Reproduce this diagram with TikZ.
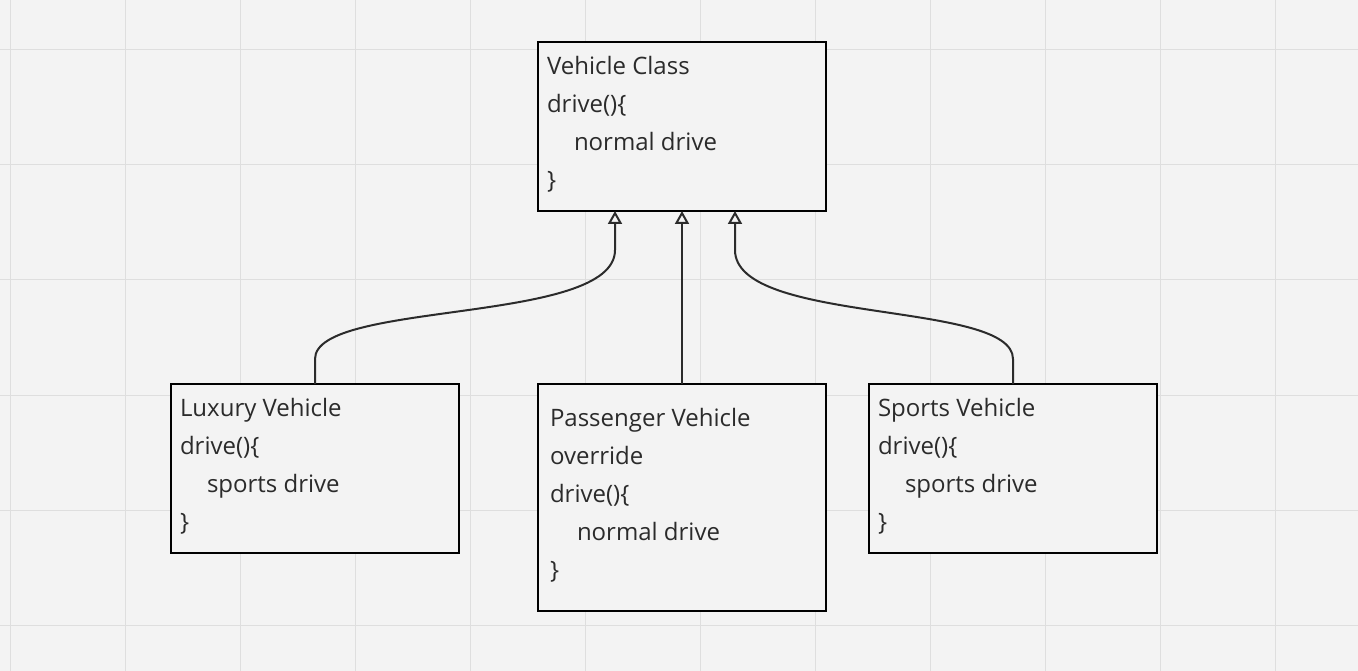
\documentclass[tikz,border=0pt]{standalone}
\usepackage{fontspec}
\setmainfont{Open Sans}
\usetikzlibrary{arrows.meta,calc}
\definecolor{bgc}{HTML}{F3F3F3}
\definecolor{gridc}{HTML}{DEDEDE}
\definecolor{linec}{HTML}{2B2B2B}
\tikzset{
  every picture/.style={line width=2pt},
  classbox/.style={draw=black,fill=bgc,minimum width=288pt,inner sep=0pt,outer sep=0pt},
  classtext/.style={anchor=north west,inner sep=0pt,align=left,text=linec,
    font=\fontsize{24}{38}\selectfont},
  inherit/.style={draw=linec,-{Triangle[open,width=14pt,length=13pt]}}
}
\begin{document}
\begin{tikzpicture}[x=1pt,y=1pt,yscale=-1]
  \fill[bgc] (0,0) rectangle (1358,671);
  \useasboundingbox (0,0) rectangle (1358,671);
  % grid
  \foreach \gx in {10,125,...,1358} \draw[gridc,line width=1pt] (\gx,0) -- (\gx,671);
  \foreach \gy in {50,165,...,671} \draw[gridc,line width=1pt] (0,\gy) -- (1358,\gy);

  % boxes
  \node[classbox,minimum height=169pt,anchor=north west] (vehicle) at (538,42) {};
  \node[classbox,minimum height=169pt,anchor=north west] (luxury) at (171,384) {};
  \node[classbox,minimum height=227pt,anchor=north west] (passenger) at (538,384) {};
  \node[classbox,minimum height=169pt,anchor=north west] (sports) at (869,384) {};

  % texts
  \node[classtext] (vehicletxt) at (546,55) {Vehicle Class\\drive()\{\\\hspace*{27pt}normal drive\\\}};
  \node[classtext] (luxurytxt) at (179,397) {Luxury Vehicle\\drive()\{\\\hspace*{27pt}sports drive\\\}};
  \node[classtext] (passengertxt) at (549,407) {Passenger Vehicle\\override\\drive()\{\\\hspace*{27pt}normal drive\\\}};
  \node[classtext] (sportstxt) at (877,397) {Sports Vehicle\\drive()\{\\\hspace*{27pt}sports drive\\\}};

  % connectors
  \coordinate (inL) at (615,211);
  \coordinate (inC) at (682,211);
  \coordinate (inR) at (735,211);
  \coordinate (outL) at (315,384);
  \coordinate (outR) at (1013,384);
  \draw[inherit] (outL) -- ++(0,-25) .. controls (315,300) and (615,325) .. (615,250) -- (inL);
  \draw[inherit] (passenger.north -| inC) -- (inC);
  \draw[inherit] (outR) -- ++(0,-25) .. controls (1013,300) and (735,325) .. (735,250) -- (inR);
\end{tikzpicture}
\end{document}
